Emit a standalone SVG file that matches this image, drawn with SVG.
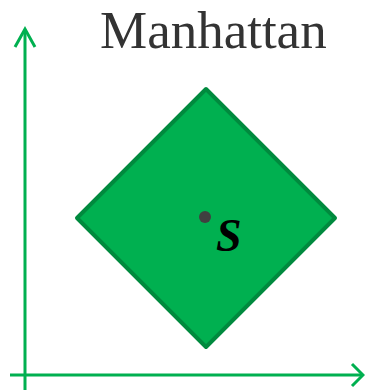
<svg xmlns="http://www.w3.org/2000/svg" width="365" height="391" viewBox="0 0 365 391">
<style>
.axis{stroke:#00b050;stroke-width:3;fill:none}
.title{font-family:"Liberation Serif",serif;font-size:53px;fill:#333}
.lbl{font-family:"Liberation Serif",serif;font-size:46px;font-style:italic;font-weight:bold;fill:#000}
</style>
<g id="connectors">
<path class="axis" d="M25,390 V30"/>
<path class="axis" d="M15,47 L25,29 L35,47"/>
<path class="axis" d="M10,375 H363"/>
<path class="axis" d="M352,364 L363,375 L352,386"/>
</g>
<g id="title"><text class="title" x="100" y="48">Manhattan</text></g>
<g id="diamond">
<polygon points="206,89 335,218 206,347 77,218" fill="#00b050" stroke="#008a3e" stroke-width="4" stroke-linejoin="round"/>
</g>
<g id="point">
<circle cx="205" cy="217" r="6" fill="#404040"/>
<text class="lbl" x="216" y="251">S</text>
</g>
</svg>
